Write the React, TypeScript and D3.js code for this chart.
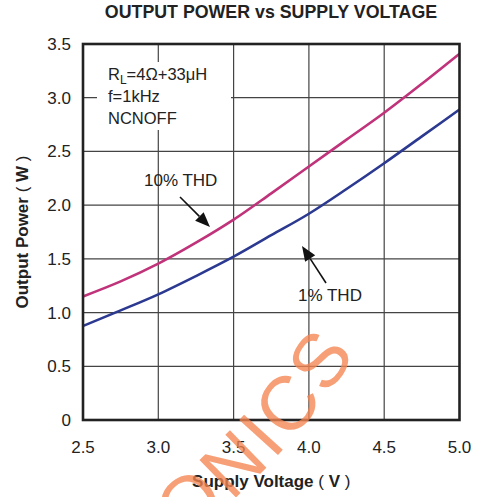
import React from "react";
import * as d3 from "d3";

// Supply voltage (V) and output power (W) at two distortion levels
const voltages = [2.5, 2.75, 3.0, 3.25, 3.5, 3.75, 4.0, 4.25, 4.5, 4.75, 5.0];
const thd10 = [1.15, 1.29, 1.455, 1.65, 1.865, 2.11, 2.36, 2.61, 2.86, 3.13, 3.41];
const thd1 = [0.875, 1.02, 1.17, 1.34, 1.52, 1.72, 1.92, 2.15, 2.39, 2.64, 2.89];

const xTicks = [2.5, 3.0, 3.5, 4.0, 4.5, 5.0];
const yTicks = [0, 0.5, 1.0, 1.5, 2.0, 2.5, 3.0, 3.5];

const W = 480;
const H = 497;
const left = 83;
const right = 459.5;
const top = 44;
const bottom = 420;

const FONT = "'Liberation Sans', Arial, sans-serif";

function Arrow({ x1, y1, x2, y2 }: { x1: number; y1: number; x2: number; y2: number }) {
  const ang = Math.atan2(y2 - y1, x2 - x1);
  const len = 15;
  const half = 6;
  const bx = x2 - len * Math.cos(ang);
  const by = y2 - len * Math.sin(ang);
  const px = -Math.sin(ang) * half;
  const py = Math.cos(ang) * half;
  return (
    <g>
      <line x1={x1} y1={y1} x2={bx} y2={by} stroke="#111" strokeWidth={1.6} />
      <path d={`M${x2},${y2}L${bx + px},${by + py}L${bx - px},${by - py}Z`} fill="#111" />
    </g>
  );
}

export default function App() {
  const x = d3.scaleLinear().domain([2.5, 5.0]).range([left, right]);
  const y = d3.scaleLinear().domain([0, 3.5]).range([bottom, top]);

  const line = (vals: number[]) =>
    d3
      .line<number>()
      .x((_, i) => x(voltages[i]))
      .y((d) => y(d))
      .curve(d3.curveMonotoneX)(vals) as string;

  const wm = d3.path();
  wm.moveTo(155, 560);
  wm.quadraticCurveTo(275, 480, 355, 355);

  return (
    <svg width={W} height={H} style={{ position: "absolute", left: 0, top: 0, background: "#fff" }}>
      <rect x={0} y={0} width={W} height={H} fill="#fff" />
      <text x={271} y={18} textAnchor="middle" fontFamily={FONT} fontWeight="bold" fontSize={17.8} fill="#222">
        OUTPUT POWER vs SUPPLY VOLTAGE
      </text>

      {/* grid */}
      {xTicks.slice(1, -1).map((t) => (
        <line key={"gx" + t} x1={x(t)} x2={x(t)} y1={top} y2={bottom} stroke="#444" strokeWidth={1.2} />
      ))}
      {yTicks.slice(1, -1).map((t) => (
        <line key={"gy" + t} x1={left} x2={right} y1={y(t)} y2={y(t)} stroke="#444" strokeWidth={1.2} />
      ))}

      {/* condition box */}
      <rect x={97} y={62} width={134} height={68} fill="#fff" />
      <g fontFamily={FONT} fontSize={16.5} fill="#222">
        <text x={108} y={80}>
          R<tspan fontSize={12} dy={4}>L</tspan>
          <tspan dy={-4}>=4Ω+33μH</tspan>
        </text>
        <text x={108} y={102}>f=1kHz</text>
        <text x={108} y={124}>NCNOFF</text>
      </g>

      {/* curves */}
      <path d={line(thd10)} fill="none" stroke="#c0337a" strokeWidth={2.6} />
      <path d={line(thd1)} fill="none" stroke="#2b3990" strokeWidth={2.6} />

      {/* frame */}
      <rect x={left} y={top} width={right - left} height={bottom - top} fill="none" stroke="#222" strokeWidth={2.6} />

      {/* annotations */}
      <g fontFamily={FONT} fontSize={17} fill="#222">
        <text x={144} y={186}>10% THD</text>
        <text x={298} y={301}>1% THD</text>
      </g>
      <Arrow x1={180} y1={197} x2={210} y2={227} />
      <Arrow x1={326} y1={283} x2={302} y2={246} />

      {/* tick labels */}
      <g fontFamily={FONT} fontSize={17} fill="#222">
        {yTicks.map((t) => (
          <text key={"yl" + t} x={71} y={y(t) + 6} textAnchor="end">
            {t === 0 ? "0" : t.toFixed(1)}
          </text>
        ))}
        {xTicks.map((t) => (
          <text key={"xl" + t} x={x(t)} y={453} textAnchor="middle">
            {t.toFixed(1)}
          </text>
        ))}
      </g>

      {/* axis titles */}
      <text x={(left + right) / 2} y={487} textAnchor="middle" fontFamily={FONT} fontSize={17} fontWeight="bold" fill="#222">
        Supply Voltage <tspan fontWeight="normal">(</tspan> V <tspan fontWeight="normal">)</tspan>
      </text>
      <text
        transform={`translate(28,${(top + bottom) / 2}) rotate(-90)`}
        textAnchor="middle"
        fontFamily={FONT}
        fontSize={17}
        fontWeight="bold"
        fill="#222"
      >
        Output Power <tspan fontWeight="normal">(</tspan> W <tspan fontWeight="normal">)</tspan>
      </text>

      {/* watermark */}
      <path id="wmPath" d={wm.toString()} fill="none" stroke="none" />
      <text
        fontFamily="'Liberation Sans Narrow', 'Liberation Sans', sans-serif"
        fontSize={76}
        fill="#f5844f"
        fillOpacity={0.78}
        letterSpacing={4}
      >
        <textPath href="#wmPath" startOffset={33}>
          ONICS
        </textPath>
      </text>
    </svg>
  );
}
